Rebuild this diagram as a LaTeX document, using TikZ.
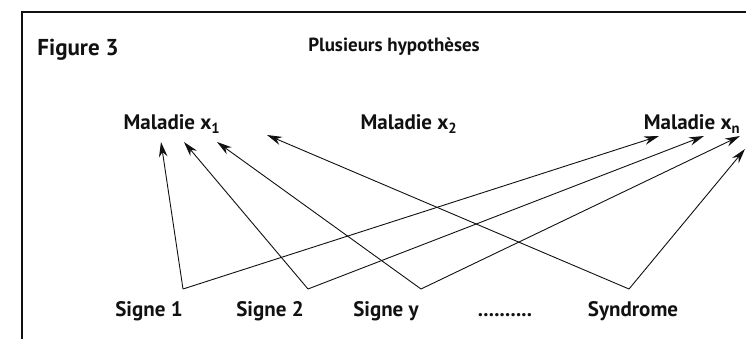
\documentclass[tikz,border=0pt]{standalone}
\usepackage{fontspec}
\setmainfont{PT Sans}
\usepackage{xcolor}
\usetikzlibrary{arrows.meta,positioning,calc}
\definecolor{Ink}{HTML}{111111}
\definecolor{Paper}{HTML}{FFFFFF}

\begin{document}
\begin{tikzpicture}[x=1pt,y=-1pt,>={Stealth[length=15pt,width=8.5pt]},label/.style={anchor=base,inner sep=0pt,text=Ink,font=\fontsize{21}{24}\selectfont\bfseries},heading/.style={label,font=\fontsize{23}{26}\selectfont\bfseries},fleche/.style={->,line width=0.9pt,draw=Ink},cadre/.style={line width=1.4pt,draw=Ink}]
\useasboundingbox[fill=Paper] (0,0) rectangle (746,339);\draw[cadre] (746,12)--(22,12)--(22,339);
\node[heading] (fig) at (78,56) {Figure 3};\node[label,font=\fontsize{19}{22}\selectfont\bfseries] (titre) at (394,52) {Plusieurs hypothèses};
\node[label] (m1) at (172,130) {Maladie x\textsubscript{1}};\node[label] (m2) at (409,130) {Maladie x\textsubscript{2}};\node[label] (mn) at (692,130) {Maladie x\textsubscript{n}};
\node[label] (s1) at (149,316) {Signe 1};\node[label] (s2) at (270,316) {Signe 2};\node[label] (sy) at (386,316) {Signe y};\node[label] (pts) at (505,316) {..........};\node[label] (synd) at (633,316) {Syndrome};
\coordinate (v1) at (183,289);\coordinate (v2) at (308,289);\coordinate (vy) at (421,289);\coordinate (vs) at (629,289);
\coordinate (a1) at (161,142);\coordinate (a2) at (184,142);\coordinate (a3) at (217,142);\coordinate (a4) at (267,135);
\coordinate (b1) at (659,136);\coordinate (b2) at (704,136);\coordinate (b3) at (740,136);\coordinate (b4) at (745,149);
\draw[fleche] (v1)--(a1);\draw[fleche] (v1)--(b1);\draw[fleche] (v2)--(a2);\draw[fleche] (v2)--(b2);
\draw[fleche] (vy)--(a3);\draw[fleche] (vy)--(b3);\draw[fleche] (vs)--(a4);\draw[fleche] (vs)--(b4);
\end{tikzpicture}
\end{document}
